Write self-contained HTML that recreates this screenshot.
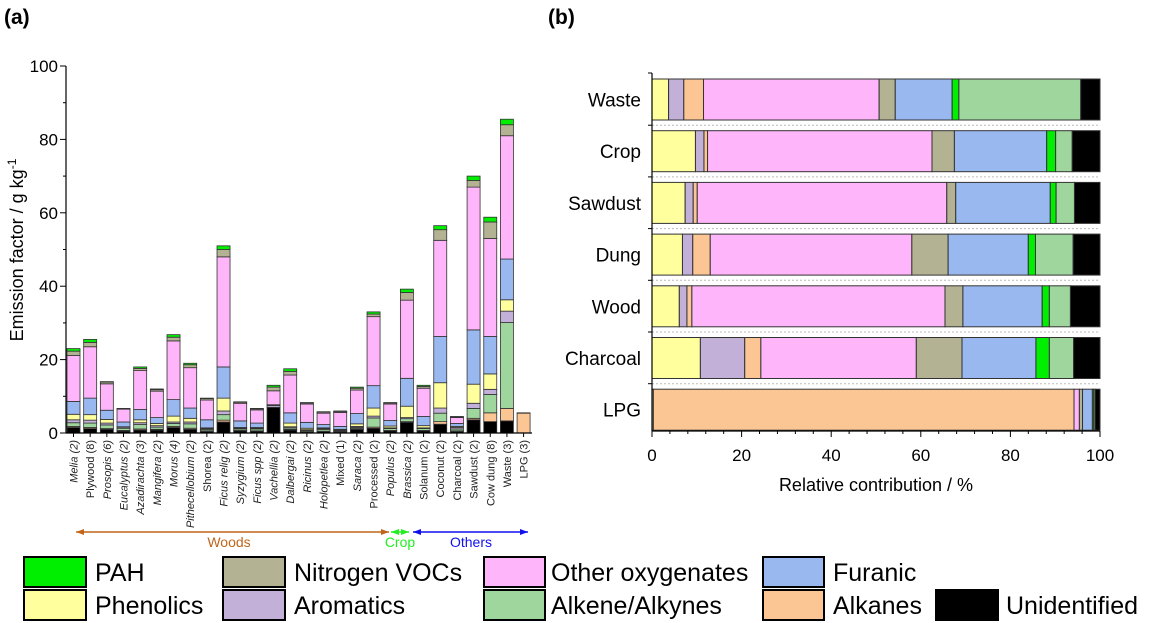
<!DOCTYPE html>
<html><head><meta charset="utf-8"><style>
body{margin:0;background:#fff;font-family:"Liberation Sans",Arial,sans-serif;}
svg{display:block}
</style></head><body>
<svg id="s" width="1158" height="623" xmlns="http://www.w3.org/2000/svg" font-family="Liberation Sans, Arial, sans-serif">
<text x="4" y="24" font-size="21" font-weight="bold">(a)</text>
<text x="548" y="24" font-size="21" font-weight="bold">(b)</text>
<g id="ga"></g>
<g id="gb"></g>
<g id="lg"></g>
</svg>
<script>
const seriesNames=["Unidentified","Alkanes","Alkene/Alkynes","Aromatics","Phenolics","Furanic","Other oxygenates","Nitrogen VOCs","PAH"];
const seriesColors=["#000000","#fcc594","#9ed69e","#c2b0d8","#ffff9e","#99b8f0","#ffb5fa","#b3b393","#00ee00"];
const catsA=["Melia (2)","Plywood (8)","Prosopis (6)","Eucalyptus (2)","Azadirachta (3)","Mangifera (2)","Morus (4)","Pithecellobium (2)","Shorea (2)","Ficus relig (2)","Syzygium (2)","Ficus spp (2)","Vachellia (2)","Dalbergai (2)","Ricinus (2)","Holopetlea (2)","Mixed (1)","Saraca (2)","Processed (2)","Populus (2)","Brassica (2)","Solanum (2)","Coconut (2)","Charcoal (2)","Sawdust (2)","Cow dung (8)","Waste (3)","LPG (3)"];
const italicA=[1,0,1,1,1,1,1,1,0,1,1,1,1,1,1,1,0,1,0,1,1,0,0,0,0,0,0,0];
const valsA=[
[1.5,.3,1,.8,1.5,3.5,12.5,1.2,.7],
[1.2,.3,1.2,.8,1.5,4.5,14,1.2,.8],
[1,.2,1,.5,1,2.5,7.2,.5,.1],
[.5,.2,.6,.3,.1,1.3,3.5,.1,.1],
[.8,.3,1.2,.5,.8,2.8,10.6,.6,.4],
[.8,.2,.6,.4,.6,1.6,7.2,.4,.2],
[1.5,.3,.8,.4,1.6,4.5,16,1,.7],
[1,.3,1.2,.5,1,2.8,11,.8,.4],
[.4,.2,.4,.2,.2,2.2,5.4,.4,.1],
[3,.5,1.5,1,3.5,8.5,30,2,1],
[.6,.1,.4,.2,.2,1.8,4.8,.3,.1],
[.5,.1,.5,.2,.2,1.2,3.6,.3,.1],
[7,0,0,.5,.2,0,3.8,1,.5],
[.8,.2,.4,.3,1,2.8,10.3,1,.7],
[.3,.1,.3,.2,.4,1.6,5,.3,.1],
[.4,.1,.5,.2,.2,.9,3.1,.3,.1],
[.3,.1,.2,.2,.2,.8,3.8,.3,.1],
[1,.2,.3,.3,.7,2.8,6.4,.5,.3],
[1.3,.3,2.5,.5,2.2,6.1,18.8,.7,.6],
[.6,.1,.5,.2,.5,1.5,4.5,.3,.1],
[2.9,.2,.8,.3,3.1,7.6,21.3,2.1,.9],
[.6,.1,.5,.2,.6,2.5,7.7,.5,.3],
[2.4,.7,2.3,1.4,6.9,12.6,26.2,2.9,1.1],
[.4,.2,.5,.4,.3,.8,1.6,.2,.1],
[3.6,.4,2.7,1.4,5.2,14.8,38.9,1.8,1.2],
[3.1,2.4,5,1.4,4.2,10.2,26.7,4.5,1.3],
[3.3,3.4,23.4,3.1,3.1,11.1,33.6,3,1.5],
[0,5.4,0,0,0,0,0,0,.1]];
const ticksA=[0,20,40,60,80,100];
const orderB=[4,3,1,6,7,5,8,2,0];
const catsB=["Waste","Crop","Sawdust","Dung","Wood","Charcoal","LPG"];
const valsB=[
[3.7,3.4,4.4,39.2,3.6,12.7,1.5,27.2,4.3],
[9.7,1.9,.8,50.1,5,20.6,2,3.7,6.2],
[7.4,1.8,.9,55.7,2,21.1,1.3,4.1,5.7],
[6.8,2.3,3.9,45,8.1,17.9,1.6,8.4,6],
[6.1,1.7,1.1,56.5,4,17.7,1.6,4.7,6.6],
[10.8,9.9,3.6,34.7,10.2,16.5,3,5.4,5.9],
[.3,0,93.9,1.2,.7,2.2,.3,.3,1.1]];
const ticksB=[0,20,40,60,80,100];
const NS="http://www.w3.org/2000/svg";
function mk(p,t,a){const e=document.createElementNS(NS,t);for(const k in a)e.setAttribute(k,a[k]);p.appendChild(e);return e;}
const ga=document.getElementById('ga');
const ax0=66,ay0=433,ayTop=66,bx0=67,pitch=16.67,bw=13;
const yA=v=>ay0-(v/100)*(ay0-ayTop);
const xA=i=>bx0+i*pitch;
catsA.forEach((c,i)=>{
 let cum=0;
 valsA[i].forEach((v,s)=>{ if(v<=0)return;
  const r=mk(ga,'rect',{x:xA(i),y:yA(cum+v),width:bw,height:yA(cum)-yA(cum+v),fill:seriesColors[s],stroke:'#333','stroke-width':0.8});
  
  
  cum+=v;});
 const t=mk(ga,'text',{transform:`translate(${xA(i)+bw/2+4},440) rotate(-90)`,'text-anchor':'end','font-size':11,'font-style':italicA[i]?'italic':'normal',fill:'#222'});
 t.textContent=c;
 
 
 mk(ga,'line',{x1:xA(i)+bw/2,x2:xA(i)+bw/2,y1:ay0,y2:ay0+4,stroke:'#000'});
});
mk(ga,'line',{x1:ax0,x2:ax0,y1:ayTop,y2:ay0,stroke:'#000','stroke-width':1.2});
mk(ga,'line',{x1:ax0,x2:532,y1:ay0,y2:ay0,stroke:'#000','stroke-width':1.2});
ticksA.forEach(v=>{mk(ga,'line',{x1:ax0-6,x2:ax0,y1:yA(v),y2:yA(v),stroke:'#000'});
 if(v<100)mk(ga,'line',{x1:ax0-3,x2:ax0,y1:yA(v+10),y2:yA(v+10),stroke:'#000'});
 const t=mk(ga,'text',{x:ax0-8,y:yA(v)+6,'text-anchor':'end','font-size':17});t.textContent=v;
 });
const yt=mk(ga,'text',{transform:'translate(23,250) rotate(-90)','text-anchor':'middle','font-size':18});
yt.innerHTML='Emission factor / g kg<tspan dy="-7" font-size="12">-1</tspan>';

function arrow(x1,x2,y,col,label,lx,name){
 mk(ga,'line',{x1:x1,x2:x2,y1:y,y2:y,stroke:col,'stroke-width':1.5});
 mk(ga,'polygon',{points:`${x1},${y} ${x1+8},${y-3} ${x1+8},${y+3}`,fill:col});
 mk(ga,'polygon',{points:`${x2},${y} ${x2-8},${y-3} ${x2-8},${y+3}`,fill:col});
 const t=mk(ga,'text',{x:lx,y:y+15,'text-anchor':'middle','font-size':14,fill:col});t.textContent=label;
 }
arrow(76,389,532,'#c0651a','Woods',229,'group-woods');
arrow(391,409,532,'#22ee22','Crop',400,'group-crop');
arrow(413,528,532,'#1010ee','Others',471,'group-others');
const gb=document.getElementById('gb');
const bx=652,bxe=1100,rowTop=79,rowPitch=51.7,rowH=41;
const xB=v=>bx+(v/100)*(bxe-bx);
catsB.forEach((c,i)=>{
 const y=rowTop+i*rowPitch;let cum=0;
 valsB[i].forEach((v,k)=>{ if(v<=0)return;
  const r=mk(gb,'rect',{x:xB(cum),y:y,width:xB(cum+v)-xB(cum),height:rowH,fill:seriesColors[orderB[k]],stroke:'#333','stroke-width':1});
  
  
  cum+=v;});
 const t=mk(gb,'text',{x:641,y:y+rowH/2+7,'text-anchor':'end','font-size':19});t.textContent=c;
 
 if(i>0){mk(gb,'line',{x1:bx,x2:bxe,y1:y-5.5,y2:y-5.5,stroke:'#bbb','stroke-dasharray':'2,2'});
  mk(gb,'line',{x1:bx-4,x2:bx,y1:y-5.5,y2:y-5.5,stroke:'#000'});}
});
mk(gb,'line',{x1:bx,x2:bx,y1:73,y2:431,stroke:'#000','stroke-width':1.2});
mk(gb,'line',{x1:bx-4,x2:bx,y1:73,y2:73,stroke:'#000'});
mk(gb,'line',{x1:bx,x2:bxe,y1:431,y2:431,stroke:'#000','stroke-width':1.2});
ticksB.forEach(v=>{mk(gb,'line',{x1:xB(v),x2:xB(v),y1:431,y2:437,stroke:'#000'});
 for(let m=4;m<20&&v<100;m+=4)mk(gb,'line',{x1:xB(v+m),x2:xB(v+m),y1:431,y2:434,stroke:'#000'});
 const t=mk(gb,'text',{x:xB(v),y:461,'text-anchor':'middle','font-size':17});t.textContent=v;
 });
const xt=mk(gb,'text',{x:876,y:491,'text-anchor':'middle','font-size':18});xt.textContent='Relative contribution / %';

const lg=document.getElementById('lg');
// [series, swatchX, rowY, textX, swatchW]
const legItems=[[8,24,557,95,62],[7,223,557,294,62],[6,484,557,551,61],[5,763,557,833,61],[4,24,590,95,62],[3,223,590,294,62],[2,484,590,551,61],[1,763,590,833,61],[0,936,590,1006,62]];
legItems.forEach(it=>{
 const r=mk(lg,'rect',{x:it[1],y:it[2],width:it[4],height:30,fill:seriesColors[it[0]],stroke:'#000','stroke-width':2});
 
 const t=mk(lg,'text',{x:it[3],y:it[2]+24,'font-size':25});t.textContent=seriesNames[it[0]];
 
});
</script>
</body></html>
